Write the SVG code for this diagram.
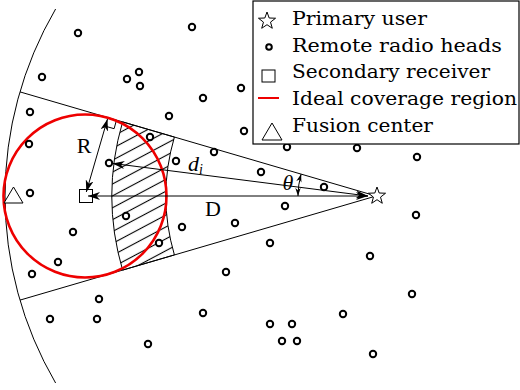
<svg xmlns="http://www.w3.org/2000/svg" width="520" height="390" viewBox="0 0 520 390">
<style>
.ln{fill:none;stroke:#000;stroke-width:1}
.dot{fill:#fff;stroke:#000;stroke-width:2}
.sym{fill:#fff;stroke:#000;stroke-width:1}
.lab{font-family:"DejaVu Serif","Liberation Serif",serif;font-size:19px;fill:#000}
.math{font-family:"Liberation Serif","DejaVu Serif",serif;font-size:22px;fill:#000}
.arr{fill:none;stroke:#000;stroke-width:1;marker-start:url(#ah);marker-end:url(#ah)}
</style>
<defs>
<marker id="ah" viewBox="0 0 12 8" refX="12" refY="4" markerWidth="12" markerHeight="8" markerUnits="userSpaceOnUse" orient="auto-start-reverse">
<path d="M0,0 L12,4 L0,8 L3.5,4 Z" fill="#000"/>
</marker>
<marker id="ahs" viewBox="0 0 12 8" refX="12" refY="4" markerWidth="8" markerHeight="5.5" markerUnits="userSpaceOnUse" orient="auto-start-reverse">
<path d="M0,0 L12,4 L0,8 L3.5,4 Z" fill="#000"/>
</marker>
<pattern id="hatch" patternUnits="userSpaceOnUse" width="12" height="10.5" patternTransform="rotate(-28)">
<line x1="0" y1="5.25" x2="12" y2="5.25" stroke="#000" stroke-width="1.1"/>
</pattern>
<path id="star" d="M0,-9 L2.18,-2.99 L8.56,-2.78 L3.52,1.14 L5.29,7.28 L0,3.7 L-5.29,7.28 L-3.52,1.14 L-8.56,-2.78 L-2.18,-2.99 Z"/>
</defs>
<rect width="520" height="390" fill="#fff"/>

<g id="hatched-region">
<path d="M174.4,137.1 A210,210 0 0 0 174.4,254.9 L122.6,270.1 A264,264 0 0 1 122.6,121.9 Z" fill="url(#hatch)" stroke="#000" stroke-width="1"/>
</g>

<g id="sector">
<path class="ln" d="M376,196 L20,91.9 M376,196 L20,300.1"/>
<path class="ln" d="M55.6,9 A371,371 0 0 0 55.6,383"/>
<polyline class="ln" points="116.5,120.1 114.1,128.7 105.4,126.2"/>
</g>

<g id="coverage-region">
<circle cx="85" cy="196" r="81.5" fill="none" stroke="#ee0000" stroke-width="2.6"/>
</g>

<g id="secondary-receiver">
<rect class="sym" x="79.5" y="189.5" width="13" height="13" fill="none"/>
</g>

<g id="connectors">
<line class="arr" x1="86.3" y1="192" x2="107.5" y2="119"/>
<line class="arr" x1="368" y1="196" x2="112.5" y2="163.4"/>
<line class="arr" x1="368" y1="196" x2="88" y2="196"/>
<path d="M298,196 A78,78 0 0 1 301.1,174.1" fill="none" stroke="#000" stroke-width="1" marker-start="url(#ahs)" marker-end="url(#ahs)"/>
</g>

<g id="remote-radio-heads">
<circle class="dot" cx="78" cy="33" r="3.2"/>
<circle class="dot" cx="192" cy="27" r="3.2"/>
<circle class="dot" cx="42" cy="77" r="3.2"/>
<circle class="dot" cx="139" cy="72" r="3.2"/>
<circle class="dot" cx="127" cy="79" r="3.2"/>
<circle class="dot" cx="140" cy="86" r="3.2"/>
<circle class="dot" cx="241" cy="88" r="3.2"/>
<circle class="dot" cx="203" cy="98" r="3.2"/>
<circle class="dot" cx="30" cy="112" r="3.2"/>
<circle class="dot" cx="169" cy="116" r="3.2"/>
<circle class="dot" cx="244" cy="131" r="3.2"/>
<circle class="dot" cx="150" cy="137" r="3.2"/>
<circle class="dot" cx="29" cy="144" r="3.2"/>
<circle class="dot" cx="287" cy="147" r="3.2"/>
<circle class="dot" cx="357" cy="148" r="3.2"/>
<circle class="dot" cx="214" cy="152" r="3.2"/>
<circle class="dot" cx="417" cy="157" r="3.2"/>
<circle class="dot" cx="176" cy="161" r="3.2"/>
<circle class="dot" cx="109" cy="163" r="3.2"/>
<circle class="dot" cx="261" cy="172" r="3.2"/>
<circle class="dot" cx="324" cy="187" r="3.2"/>
<circle class="dot" cx="30" cy="193" r="3.2"/>
<circle class="dot" cx="285" cy="206" r="3.2"/>
<circle class="dot" cx="416" cy="215" r="3.2"/>
<circle class="dot" cx="126" cy="216" r="3.2"/>
<circle class="dot" cx="235" cy="223" r="3.2"/>
<circle class="dot" cx="182" cy="227" r="3.2"/>
<circle class="dot" cx="73" cy="232" r="3.2"/>
<circle class="dot" cx="159" cy="243" r="3.2"/>
<circle class="dot" cx="270" cy="243" r="3.2"/>
<circle class="dot" cx="370" cy="256" r="3.2"/>
<circle class="dot" cx="58" cy="262" r="3.2"/>
<circle class="dot" cx="32" cy="274" r="3.2"/>
<circle class="dot" cx="226" cy="272" r="3.2"/>
<circle class="dot" cx="412" cy="294" r="3.2"/>
<circle class="dot" cx="99" cy="299" r="3.2"/>
<circle class="dot" cx="203" cy="313" r="3.2"/>
<circle class="dot" cx="343" cy="314" r="3.2"/>
<circle class="dot" cx="50" cy="319" r="3.2"/>
<circle class="dot" cx="97" cy="319" r="3.2"/>
<circle class="dot" cx="270" cy="324" r="3.2"/>
<circle class="dot" cx="292" cy="324" r="3.2"/>
<circle class="dot" cx="282" cy="341" r="3.2"/>
<circle class="dot" cx="297" cy="341" r="3.2"/>
<circle class="dot" cx="148" cy="344" r="3.2"/>
<circle class="dot" cx="373" cy="354" r="3.2"/>
</g>

<g id="primary-user">
<use href="#star" class="sym" transform="translate(377,196)"/>
</g>

<g id="fusion-center">
<polygon class="sym" points="13.5,187 4,203 23,203"/>
</g>

<g id="labels">
<text class="math" x="84" y="153" text-anchor="middle">R</text>
<text class="math" x="213" y="216" text-anchor="middle">D</text>
<text class="math" x="188" y="171" font-style="italic">d<tspan font-size="14" dy="3">i</tspan></text>
<text class="math" x="288" y="190" font-style="italic" font-size="20" text-anchor="middle">θ</text>
</g>

<g id="legend">
<rect x="253" y="1" width="266" height="143" fill="#fff" stroke="#000" stroke-width="1.2"/>
<use href="#star" class="sym" transform="translate(267,21)"/>
<circle class="dot" cx="269" cy="47" r="2.8"/>
<rect class="sym" x="262" y="70" width="13" height="12"/>
<line x1="258" y1="98" x2="279" y2="98" stroke="#ee0000" stroke-width="2"/>
<polygon class="sym" points="272,123 262,140 282,140"/>
<text class="lab" x="292" y="25" textLength="135" lengthAdjust="spacingAndGlyphs">Primary user</text>
<text class="lab" x="292" y="52" textLength="210" lengthAdjust="spacingAndGlyphs">Remote radio heads</text>
<text class="lab" x="292" y="78" textLength="198" lengthAdjust="spacingAndGlyphs">Secondary receiver</text>
<text class="lab" x="292" y="105" textLength="225" lengthAdjust="spacingAndGlyphs">Ideal coverage region</text>
<text class="lab" x="292" y="132" textLength="141" lengthAdjust="spacingAndGlyphs">Fusion center</text>
</g>
</svg>
